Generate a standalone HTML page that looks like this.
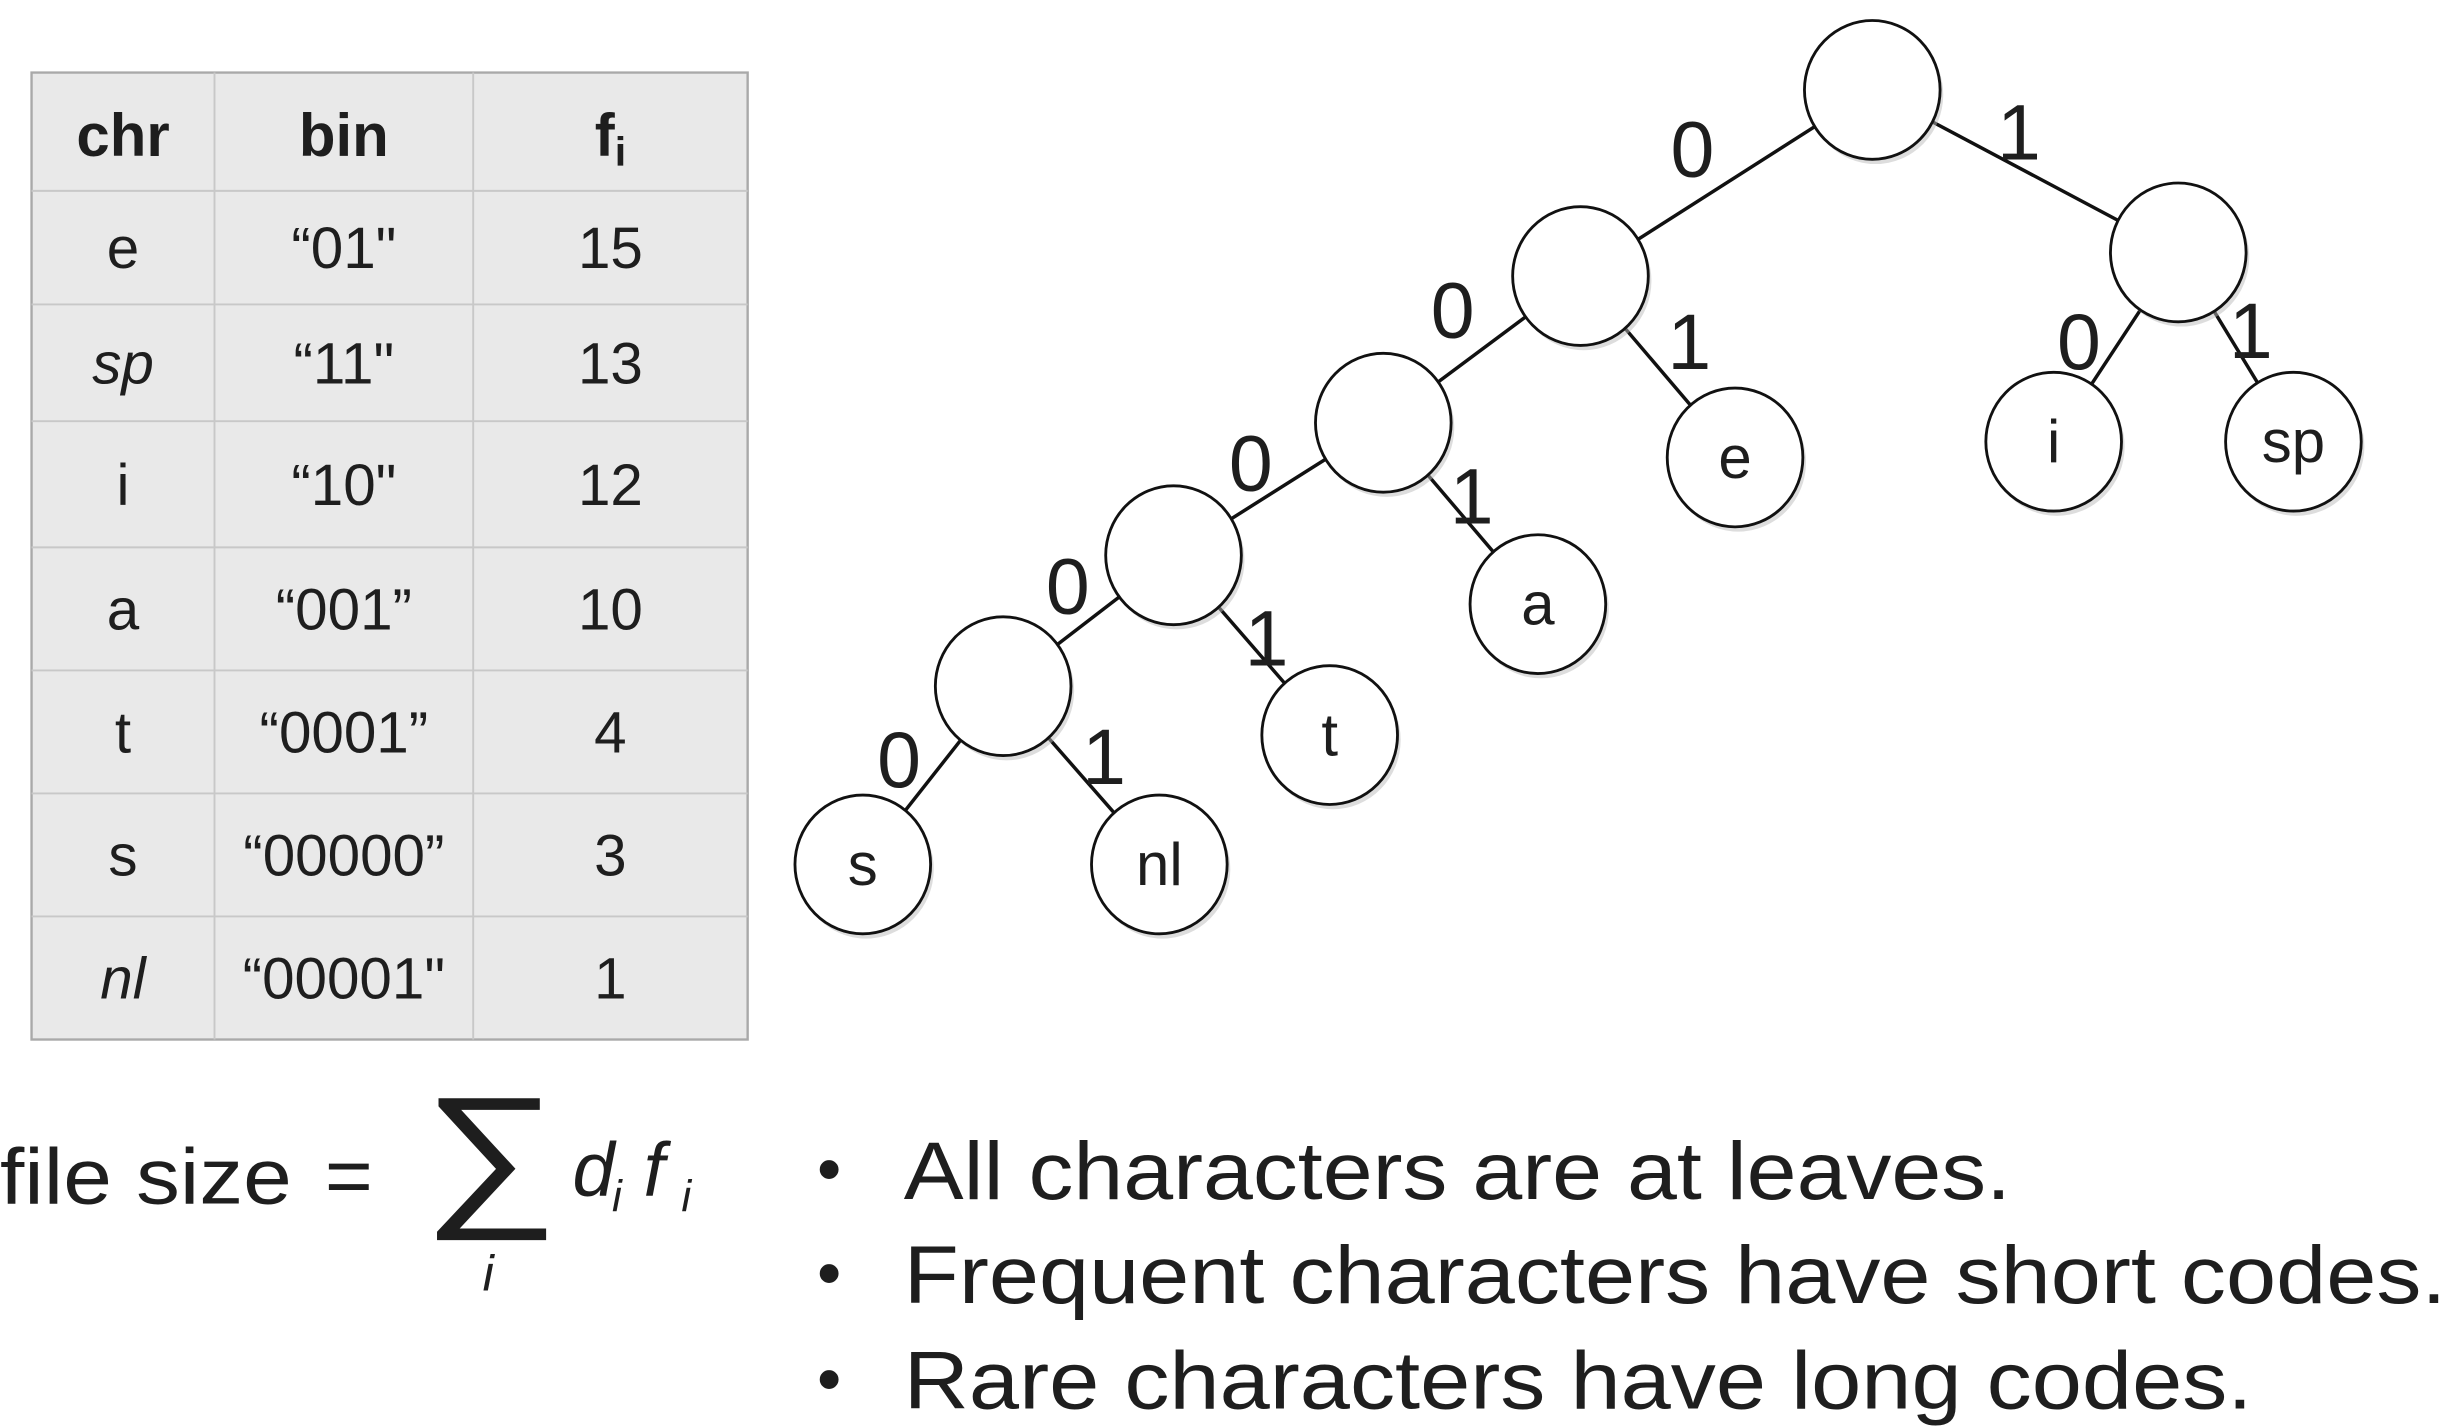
<!DOCTYPE html>
<html><head><meta charset="utf-8">
<style>
html,body{margin:0;padding:0;background:#fff;}
svg{display:block;}
text{font-family:"Liberation Sans",sans-serif;fill:#1e1e1e;}
</style></head>
<body>
<svg id="s" width="2448" height="1426" viewBox="0 0 1552 904" preserveAspectRatio="none">
<g id="table"></g>
<g id="tree"></g>
<g>
 <text x="0" y="763" font-size="50" textLength="185" lengthAdjust="spacingAndGlyphs">file size</text>
 <text x="206" y="763" font-size="52">=</text>
 <text x="268" y="765" font-size="100" font-family="Liberation Serif,serif" textLength="86" lengthAdjust="spacingAndGlyphs">∑</text>
 <text x="306" y="818" font-size="32" font-style="italic" font-family="Liberation Serif,serif">i</text>
 <text x="363" y="758" font-size="48" font-style="italic" font-family="Liberation Serif,serif">d</text>
 <text x="388" y="768" font-size="28" font-style="italic" font-family="Liberation Serif,serif">i</text>
 <text x="408" y="758" font-size="48" font-style="italic" font-family="Liberation Serif,serif">f</text>
 <text x="432" y="768" font-size="28" font-style="italic" font-family="Liberation Serif,serif">i</text>
</g>
<g>
 <text x="518" y="756" font-size="44">•</text>
 <text x="573" y="760" font-size="52" textLength="702" lengthAdjust="spacingAndGlyphs">All characters are at leaves.</text>
 <text x="518" y="822" font-size="44">•</text>
 <text x="573" y="826" font-size="52" textLength="978" lengthAdjust="spacingAndGlyphs">Frequent characters have short codes.</text>
 <text x="518" y="889" font-size="44">•</text>
 <text x="573" y="893" font-size="52" textLength="855" lengthAdjust="spacingAndGlyphs">Rare characters have long codes.</text>
</g>
</svg>
<script>
const chars=["e","sp","i","a","t","s","nl"];
const codes=["“01\"","“11\"","“10\"","“001”","“0001”","“00000”","“00001\""];
const freqs=["15","13","12","10","4","3","1"];
const italicChars=["sp","nl"];
const NS="http://www.w3.org/2000/svg";
function mk(tag,attrs,parent){const e=document.createElementNS(NS,tag);for(const k in attrs)e.setAttribute(k,attrs[k]);parent.appendChild(e);return e;}
const tb=document.getElementById('table');
const rowY=[46,121,193,267,347,425,503,581,659];
const colX=[20,136,300,474];
const bg=mk('rect',{x:20,y:46,width:454,height:613,fill:'#e9e9e9',stroke:'#a9a9a9','stroke-width':1.5},tb);


for(let i=1;i<rowY.length-1;i++){mk('line',{x1:20,x2:474,y1:rowY[i],y2:rowY[i],stroke:'#c8c8c8','stroke-width':1.2},tb);}
for(let i=1;i<colX.length-1;i++){mk('line',{x1:colX[i],x2:colX[i],y1:46,y2:659,stroke:'#c8c8c8','stroke-width':1.2},tb);}
const cx=[78,218,387];
const hdr=[["chr",null],["bin",null],["f","i"]];
hdr.forEach((h,j)=>{const t=mk('text',{x:cx[j],y:99,'font-size':38,'font-weight':'bold','text-anchor':'middle'},tb);
 
 
 t.textContent=h[0]; if(h[1]){const ts=mk('tspan',{'font-size':26,dy:6},t);ts.textContent=h[1];}});
chars.forEach((c,i)=>{const mid=(rowY[i+1]+rowY[i+2])/2+13;
 const vals=[c,codes[i],freqs[i]];
 vals.forEach((v,j)=>{const t=mk('text',{x:cx[j],y:mid,'font-size':37,'text-anchor':'middle'},tb);
  if(j===0&&italicChars.includes(c))t.setAttribute('font-style','italic');
  
  
  t.textContent=v;});});
const tr=document.getElementById('tree');
const nodes={root:[1187,57,""],n1:[1002,175,""],r:[1381,160,""],n2:[877,268,""],e:[1100,290,"e"],i:[1302,280,"i"],sp:[1454,280,"sp"],n3:[744,352,""],a:[975,383,"a"],n4:[636,435,""],t:[843,466,"t"],s:[547,548,"s"],nl:[735,548,"nl"]};
const edges=[["root","n1"],["root","r"],["n1","n2"],["n1","e"],["r","i"],["r","sp"],["n2","n3"],["n2","a"],["n3","n4"],["n3","t"],["n4","s"],["n4","nl"]];
const labels=[["0",1073,112],["1",1280,101],["0",921,214],["1",1071,234],["0",1318,234],["1",1427,227],["0",793,311],["1",933,332],["0",677,389],["1",803,422],["0",570,499],["1",700,497]];
edges.forEach(([a,b])=>{const l=mk('line',{x1:nodes[a][0],y1:nodes[a][1],x2:nodes[b][0],y2:nodes[b][1],stroke:'#111','stroke-width':2.2},tr);
 
 });
for(const k in nodes){const [x,y,lab]=nodes[k];
 mk('ellipse',{cx:x+2,cy:y+3,rx:43,ry:44,fill:'#bbb',opacity:0.5},tr);
 const c=mk('ellipse',{cx:x,cy:y,rx:43,ry:44,fill:'#fff',stroke:'#111','stroke-width':1.8},tr);
 
 
 if(lab){const t=mk('text',{x:x,y:y+13,'font-size':38,'text-anchor':'middle'},tr);t.textContent=lab;
  
  }}
labels.forEach(([v,x,y],i)=>{const t=mk('text',{x:x,y:y,'font-size':50,'text-anchor':'middle'},tr);t.textContent=v;
 
 });
</script>
</body></html>
